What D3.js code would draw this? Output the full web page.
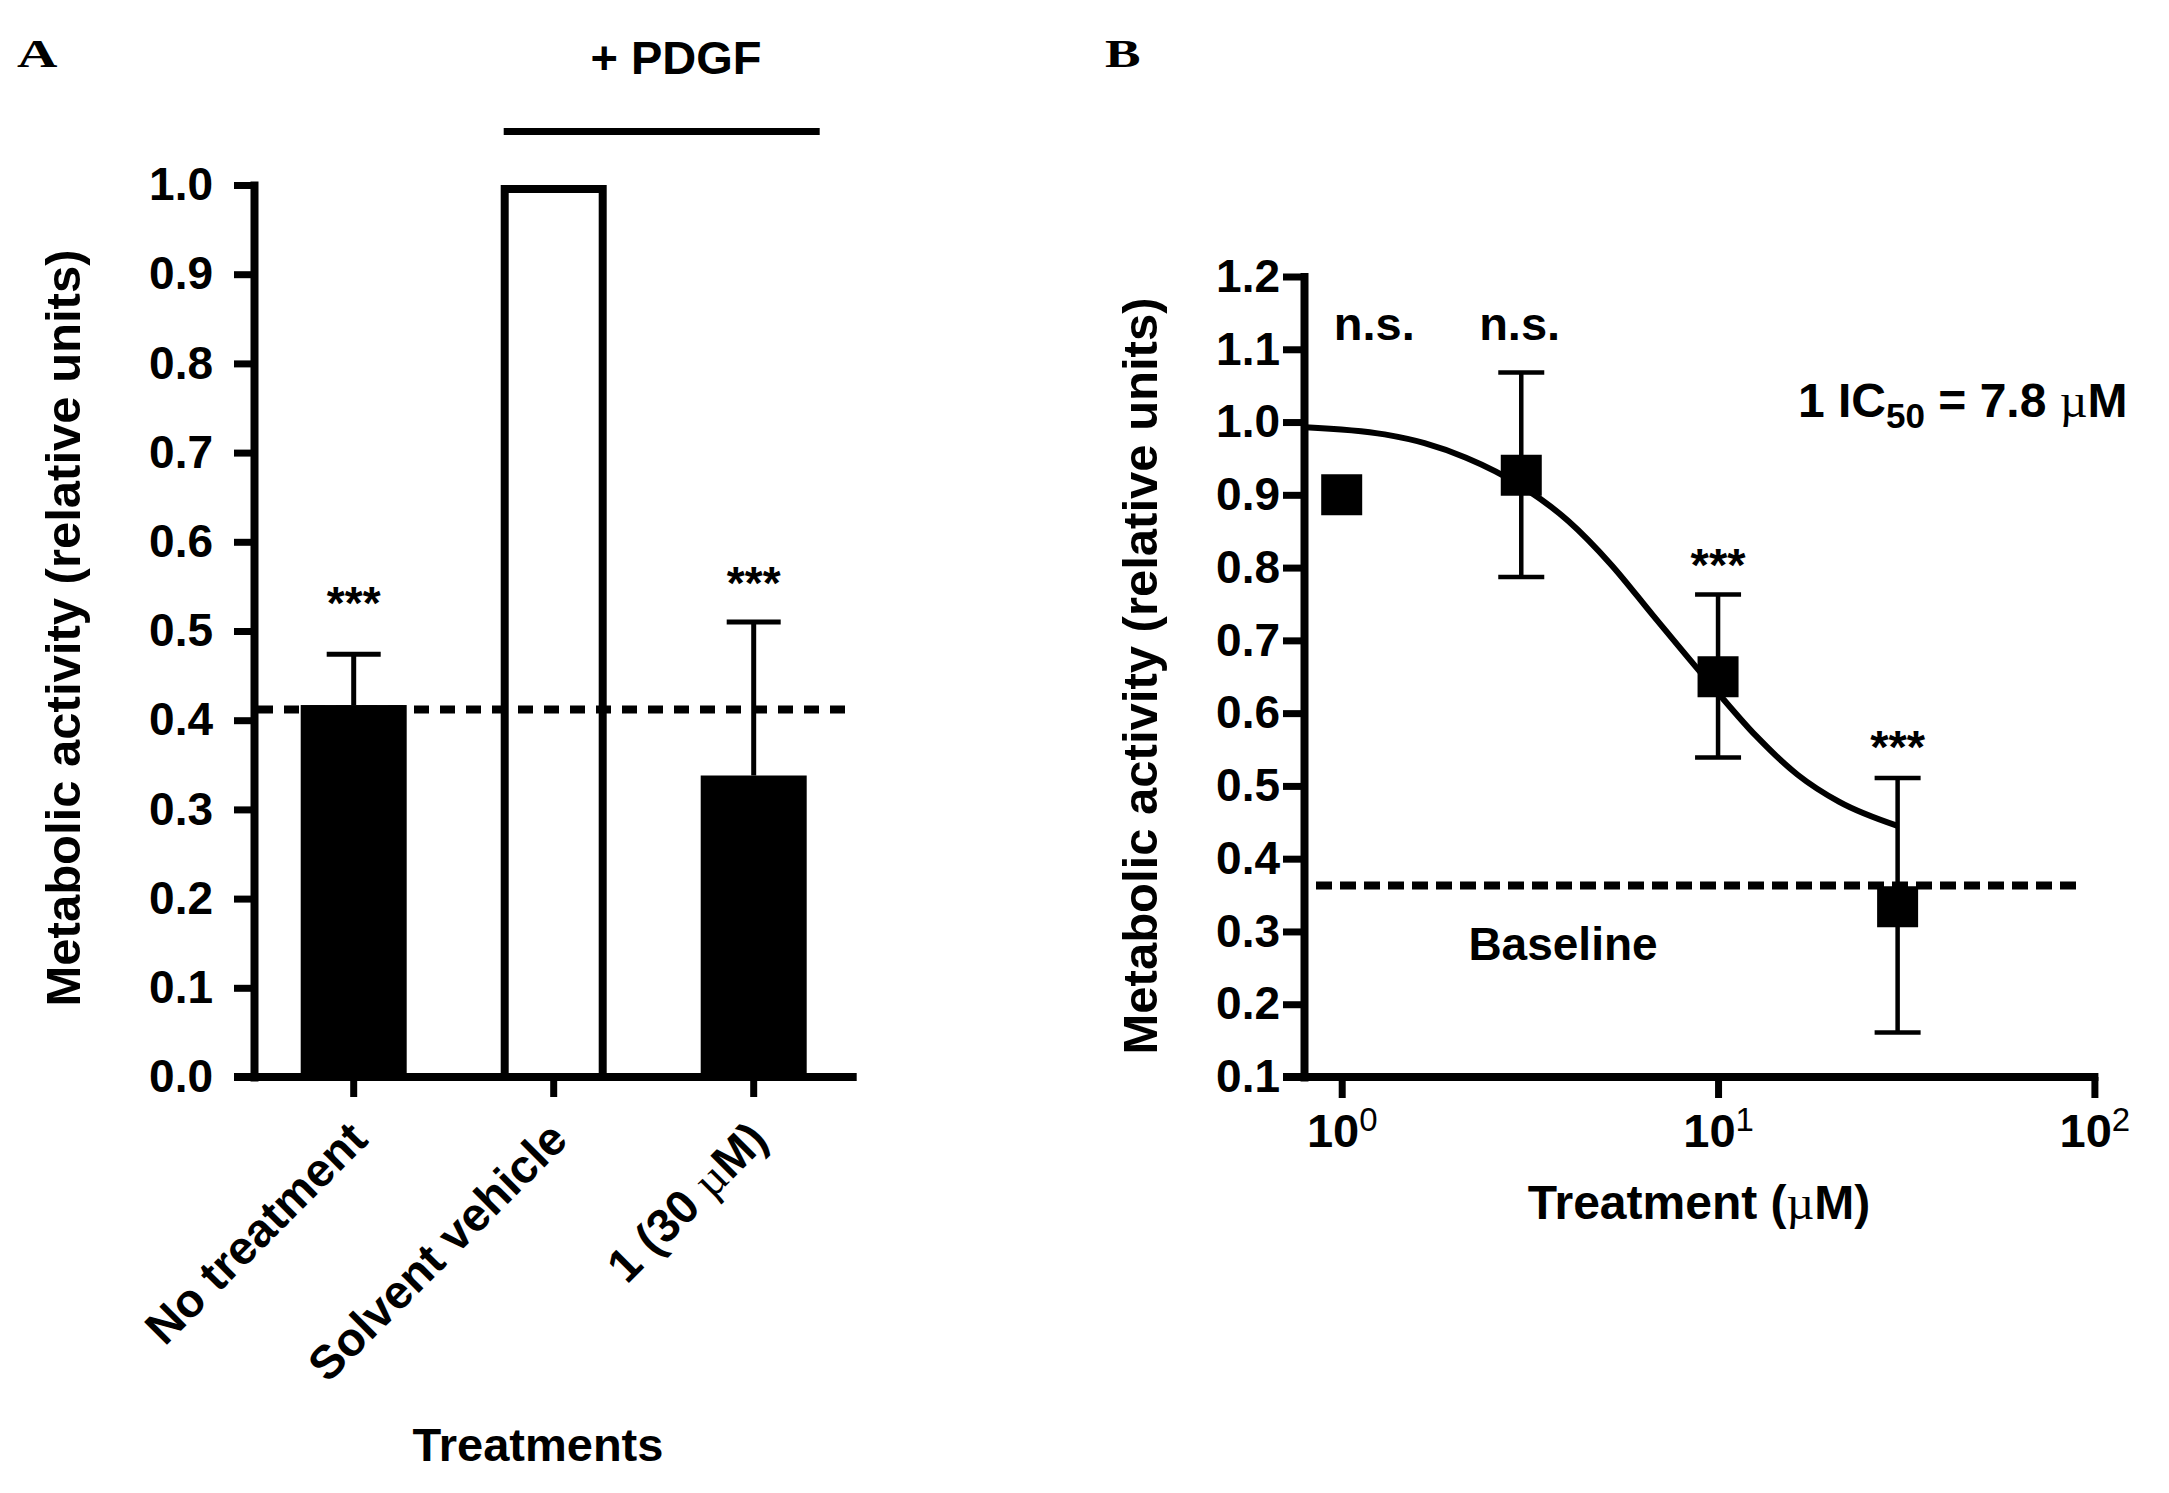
<!DOCTYPE html>
<html>
<head>
<meta charset="utf-8">
<script src="https://cdn.jsdelivr.net/npm/d3@7"></script>
<style>
  body { margin: 0; background: #fff; }
  text { font-family: "Liberation Sans", Arial, sans-serif; font-weight: bold; fill: #000; }
  .mu { font-family: "Liberation Serif", "Times New Roman", serif; font-weight: normal; }
  .panel { font-family: "Liberation Serif", "Times New Roman", serif; }
</style>
</head>
<body>
<div id="chart"></div>
<script>
// ---- panel A data ----
var categories = ["No treatment", "Solvent vehicle", "1 (30 \u00b5M)"];
var barValues = [0.417, 1.0, 0.338];
var barErrTop = [0.474, null, 0.510];
var barFilled = [true, false, true];
var barStars = ["***", "", "***"];
var barStarLevel = [0.513, null, 0.536];
var baselineA = 0.412;
var yTicksA = [0, 0.1, 0.2, 0.3, 0.4, 0.5, 0.6, 0.7, 0.8, 0.9, 1.0];

// ---- panel B data ----
var doses = [1, 3, 10, 30];
var responses = [0.900, 0.927, 0.650, 0.334];
var errUpper = [null, 1.068, 0.763, 0.511];
var errLower = [null, 0.787, 0.539, 0.161];
var pointNotes = ["n.s.", "n.s.", "***", "***"];
var noteDose = [1.22, 2.97, 10, 30];
var noteLevel = [1.113, 1.113, 0.782, 0.532];
// fitted curve
var fitDoses = [0.8, 1.3, 1.66, 2.14, 3.0, 4.0, 5.2, 6.7, 9.8, 12.6, 16.3, 21, 30];
var fitValues = [0.993, 0.983, 0.971, 0.951, 0.912, 0.864, 0.804, 0.735, 0.633, 0.569, 0.515, 0.478, 0.445];
var baselineB = 0.363;
var yTicksB = [0.1, 0.2, 0.3, 0.4, 0.5, 0.6, 0.7, 0.8, 0.9, 1.0, 1.1, 1.2];
var xTicksB = [1, 10, 100];
var xTickExp = ["0", "1", "2"];

var W = 2169, H = 1493;
var svg = d3.select("#chart").append("svg")
    .attr("width", W)
    .attr("height", H)
    .style("background", "#fff");

// ================= panel A =================
var axA = 254, bottomA = 1077;
var yA = d3.scaleLinear().domain([0, 1]).range([bottomA, 185]);
var xA = d3.scaleBand().domain(categories)
    .range([253.7, 853.7])
    .paddingInner(0.47)
    .paddingOuter(0.235);

var gA = svg.append("g");

// bars
categories.forEach(function(c, i) {
    var x0 = xA(c), bw = xA.bandwidth();
    if (barFilled[i]) {
        gA.append("rect")
            .attr("x", x0).attr("width", bw)
            .attr("y", yA(barValues[i]))
            .attr("height", bottomA - yA(barValues[i]))
            .attr("fill", "#000");
    } else {
        gA.append("rect")
            .attr("x", x0 + 4).attr("width", bw - 8)
            .attr("y", yA(barValues[i]) + 4)
            .attr("height", bottomA - yA(barValues[i]) - 4)
            .attr("fill", "#fff")
            .attr("stroke", "#000")
            .attr("stroke-width", 8);
    }
    var cx = x0 + bw / 2;
    if (barErrTop[i] != null) {
        gA.append("line")
            .attr("x1", cx).attr("x2", cx)
            .attr("y1", yA(barValues[i])).attr("y2", yA(barErrTop[i]))
            .attr("stroke", "#000").attr("stroke-width", 5);
        gA.append("line")
            .attr("x1", cx - 27).attr("x2", cx + 27)
            .attr("y1", yA(barErrTop[i])).attr("y2", yA(barErrTop[i]))
            .attr("stroke", "#000").attr("stroke-width", 5);
    }
    if (barStars[i]) {
        gA.append("text")
            .attr("x", cx).attr("y", yA(barStarLevel[i]))
            .attr("text-anchor", "middle")
            .style("font-size", "46px")
            .text(barStars[i]);
    }
});

// dashed reference line
gA.append("line")
    .attr("x1", axA + 4).attr("x2", 852)
    .attr("y1", yA(baselineA)).attr("y2", yA(baselineA))
    .attr("stroke", "#000").attr("stroke-width", 8)
    .attr("stroke-dasharray", "15,11");

// y axis
var yAxisA = gA.append("g")
    .attr("transform", "translate(" + axA + ",0)")
    .call(d3.axisLeft(yA).tickValues(yTicksA).tickFormat(d3.format(".1f"))
        .tickSize(20).tickSizeOuter(0).tickPadding(21));
yAxisA.select(".domain").attr("stroke-width", 8).attr("stroke-linecap", "square");
yAxisA.selectAll(".tick line").attr("stroke-width", 7);
yAxisA.selectAll(".tick text").style("font-size", "46px");

// x axis
gA.append("line")
    .attr("x1", axA - 20).attr("x2", xA.range()[1] + 3)
    .attr("y1", bottomA).attr("y2", bottomA)
    .attr("stroke", "#000").attr("stroke-width", 8);
var xAxisA = gA.append("g")
    .attr("transform", "translate(0," + bottomA + ")")
    .call(d3.axisBottom(xA).tickSize(20).tickSizeOuter(0));
xAxisA.select(".domain").remove();
xAxisA.selectAll(".tick line").attr("stroke-width", 7);
xAxisA.selectAll(".tick text")
    .text(null)
    .attr("x", 16).attr("y", 65).attr("dy", 0)
    .attr("text-anchor", "end")
    .attr("transform", "rotate(-45,16,65)")
    .style("font-size", "47px")
    .each(function(d) {
        var t = d3.select(this);
        var parts = d.split("\u00b5");
        t.append("tspan").text(parts[0]);
        if (parts.length > 1) {
            t.append("tspan").attr("class", "mu").text("\u00b5");
            t.append("tspan").text(parts[1]);
        }
    });

// +PDGF bracket
var pdgfX1 = xA(categories[1]) + 3, pdgfX2 = xA(categories[2]) + xA.bandwidth() + 13;
gA.append("line")
    .attr("x1", pdgfX1).attr("x2", pdgfX2)
    .attr("y1", 131.5).attr("y2", 131.5)
    .attr("stroke", "#000").attr("stroke-width", 7);
gA.append("text")
    .attr("x", 676).attr("y", 74)
    .attr("text-anchor", "middle")
    .style("font-size", "47px")
    .text("+ PDGF");

// titles
gA.append("text")
    .attr("transform", "translate(80,628) rotate(-90)")
    .attr("text-anchor", "middle")
    .style("font-size", "49px")
    .text("Metabolic activity (relative units)");
gA.append("text")
    .attr("x", 538).attr("y", 1461)
    .attr("text-anchor", "middle")
    .style("font-size", "47px")
    .text("Treatments");
gA.append("text")
    .attr("class", "panel")
    .attr("transform", "translate(17,67) scale(1.4,1)")
    .style("font-size", "40px")
    .text("A");

// ================= panel B =================
var axB = 1304, bottomB = 1077;
var xB = d3.scaleLog().domain([0.794, 100]).range([axB, 2094.4]);
var yB = d3.scaleLinear().domain([0.1, 1.2]).range([bottomB, 276.5]);

var gB = svg.append("g");

// baseline dashed
gB.append("line")
    .attr("x1", 1316).attr("x2", 2084)
    .attr("y1", yB(baselineB)).attr("y2", yB(baselineB))
    .attr("stroke", "#000").attr("stroke-width", 8)
    .attr("stroke-dasharray", "16,8");

// fitted curve
var fitPts = fitDoses.map(function(d, i) { return [d, fitValues[i]]; });
gB.append("path")
    .datum(fitPts)
    .attr("fill", "none")
    .attr("stroke", "#000")
    .attr("stroke-width", 6)
    .attr("d", d3.line()
        .x(function(d) { return xB(d[0]); })
        .y(function(d) { return yB(d[1]); })
        .curve(d3.curveMonotoneX));

// error bars
doses.forEach(function(d, i) {
    if (errUpper[i] == null) return;
    var cx = xB(d);
    gB.append("line")
        .attr("x1", cx).attr("x2", cx)
        .attr("y1", yB(errUpper[i])).attr("y2", yB(errLower[i]))
        .attr("stroke", "#000").attr("stroke-width", 4.5);
    [errUpper[i], errLower[i]].forEach(function(v) {
        gB.append("line")
            .attr("x1", cx - 23).attr("x2", cx + 23)
            .attr("y1", yB(v)).attr("y2", yB(v))
            .attr("stroke", "#000").attr("stroke-width", 4.5);
    });
});

// points
gB.selectAll("path.pt")
    .data(doses)
    .enter().append("path")
    .attr("class", "pt")
    .attr("transform", function(d, i) { return "translate(" + xB(d) + "," + yB(responses[i]) + ")"; })
    .attr("d", d3.symbol().type(d3.symbolSquare).size(41 * 41))
    .attr("fill", "#000");

// significance notes
pointNotes.forEach(function(n, i) {
    gB.append("text")
        .attr("x", xB(noteDose[i])).attr("y", yB(noteLevel[i]))
        .attr("text-anchor", "middle")
        .style("font-size", "47px")
        .text(n);
});

// y axis
var yAxisB = gB.append("g")
    .attr("transform", "translate(" + axB + ",0)")
    .call(d3.axisLeft(yB).tickValues(yTicksB).tickFormat(d3.format(".1f"))
        .tickSize(21).tickSizeOuter(0).tickPadding(3));
yAxisB.select(".domain").attr("stroke-width", 8).attr("stroke-linecap", "square");
yAxisB.selectAll(".tick line").attr("stroke-width", 7);
yAxisB.selectAll(".tick text").style("font-size", "46px");

// x axis
gB.append("line")
    .attr("x1", axB - 21).attr("x2", xB.range()[1] + 4)
    .attr("y1", bottomB).attr("y2", bottomB)
    .attr("stroke", "#000").attr("stroke-width", 8);
var xAxisB = gB.append("g")
    .attr("transform", "translate(0," + bottomB + ")")
    .call(d3.axisBottom(xB).tickValues(xTicksB).tickSize(21).tickSizeOuter(0).tickFormat(""));
xAxisB.select(".domain").remove();
xAxisB.selectAll(".tick line").attr("stroke-width", 7);
xAxisB.selectAll(".tick text")
    .attr("y", 70).attr("dy", 0)
    .style("font-size", "47px")
    .each(function(d, i) {
        var t = d3.select(this);
        t.append("tspan").text("10");
        t.append("tspan").attr("dy", -16).style("font-size", "33px").style("font-weight", "normal").text(xTickExp[i]);
    });

// titles and notes
gB.append("text")
    .attr("transform", "translate(1157,676) rotate(-90)")
    .attr("text-anchor", "middle")
    .style("font-size", "49px")
    .text("Metabolic activity (relative units)");
var xt = gB.append("text")
    .attr("x", 1699).attr("y", 1219)
    .attr("text-anchor", "middle")
    .style("font-size", "48px");
xt.append("tspan").text("Treatment (");
xt.append("tspan").attr("class", "mu").text("\u00b5");
xt.append("tspan").text("M)");

gB.append("text")
    .attr("x", 1563).attr("y", 960)
    .attr("text-anchor", "middle")
    .style("font-size", "46px")
    .text("Baseline");

var ic = gB.append("text")
    .attr("x", 1798).attr("y", 417)
    .style("font-size", "48px");
ic.append("tspan").text("1 IC");
ic.append("tspan").attr("dy", 11).style("font-size", "35px").text("50");
ic.append("tspan").attr("dy", -11).text(" = 7.8 ");
ic.append("tspan").attr("class", "mu").text("\u00b5");
ic.append("tspan").text("M");

gB.append("text")
    .attr("class", "panel")
    .attr("transform", "translate(1105,67) scale(1.3,1)")
    .style("font-size", "41px")
    .text("B");
</script>
</body>
</html>
